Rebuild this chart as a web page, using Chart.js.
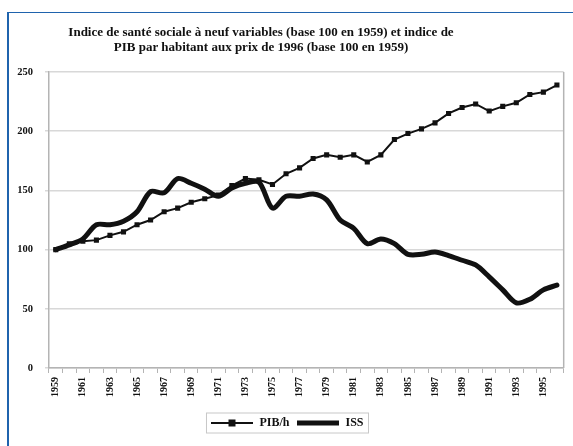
<!DOCTYPE html>
<html lang="fr">
<head>
<meta charset="utf-8">
<title>Indice de santé sociale et PIB par habitant</title>
<script src="https://cdn.jsdelivr.net/npm/chart.js@4.4.1/dist/chart.umd.min.js"></script>
<style>
    html, body { margin: 0; padding: 0; background: #fff; }
    #wrap { position: relative; width: 573px; height: 446px; overflow: hidden; background: #fff; }
    #frame { position: absolute; left: 7px; top: 12px; width: 620px; height: 500px;
             border-top: 1px solid #1f63ad; border-left: 2px solid #1f63ad; }
    #title { position: absolute; left: 0; top: 24px; width: 522px; text-align: center;
             font: bold 13px 'Liberation Serif', 'Times New Roman', serif; line-height: 15px; color: #111; }
    #issChart { position: absolute; left: 0; top: 0; }
</style>
</head>
<body>
<div id="wrap">
    <div id="frame"></div>
    <canvas id="issChart" width="573" height="446"></canvas>
    <div id="title">Indice de santé sociale à neuf variables (base 100 en 1959) et indice de<br>PIB par habitant aux prix de 1996 (base 100 en 1959)</div>
</div>
<script>
// Data
const years = ['1959', '1960', '1961', '1962', '1963', '1964', '1965', '1966', '1967', '1968',
               '1969', '1970', '1971', '1972', '1973', '1974', '1975', '1976', '1977', '1978',
               '1979', '1980', '1981', '1982', '1983', '1984', '1985', '1986', '1987', '1988',
               '1989', '1990', '1991', '1992', '1993', '1994', '1995', '1996'];
const pibValues = [100, 105, 107, 108, 112, 115, 121, 125, 132, 135,
                   140, 143, 146, 154, 160, 159, 155, 164, 169, 177,
                   180, 178, 180, 174, 180, 193, 198, 202, 207, 215,
                   220, 223, 217, 221, 224, 231, 233, 239];
const issValues = [100, 104, 109, 121, 121, 124, 132, 149, 148, 160,
                   156, 151, 145, 152, 156, 157, 135, 145, 145, 147,
                   142, 125, 118, 105, 109, 105, 96, 96, 98, 95,
                   91, 87, 77, 66, 55, 58, 66, 70];
const yTicks = [0, 50, 100, 150, 200, 250];

const FONT = "'Liberation Serif', 'Times New Roman', serif";
const AXIS_COLOR = '#b4b4b4';
const GRID_COLOR = '#d8d8d8';

document.addEventListener('DOMContentLoaded', function() {
    initIssChart();
});

/**
 * Small canvas used as legend symbol (line, optional square marker)
 */
function makeLegendIcon(lineWidth, withMarker) {
    const c = document.createElement('canvas');
    c.width = 42;
    c.height = 10;
    const ctx = c.getContext('2d');
    ctx.strokeStyle = '#111';
    ctx.lineWidth = lineWidth;
    ctx.beginPath();
    ctx.moveTo(0, 5);
    ctx.lineTo(42, 5);
    ctx.stroke();
    if (withMarker) {
        ctx.fillStyle = '#111';
        ctx.fillRect(17, 1.5, 7, 7);
    }
    return c;
}

/**
 * Draws the right frame line and a box around the legend
 */
const framePlugin = {
    id: 'framePlugin',
    afterDraw(chart) {
        const ctx = chart.ctx;
        const area = chart.chartArea;
        ctx.save();
        ctx.strokeStyle = AXIS_COLOR;
        ctx.lineWidth = 1.5;
        ctx.beginPath();
        ctx.moveTo(area.right, area.top);
        ctx.lineTo(area.right, area.bottom);
        ctx.stroke();

        const boxes = chart.legend.legendHitBoxes;
        if (boxes && boxes.length) {
            const left = Math.min(...boxes.map(b => b.left)) - 5;
            const right = Math.max(...boxes.map(b => b.left + b.width)) + 5;
            const top = boxes[0].top - 4;
            const bottom = boxes[0].top + boxes[0].height + 4;
            ctx.strokeStyle = '#c8c8c8';
            ctx.lineWidth = 1;
            ctx.strokeRect(left, top, right - left, bottom - top);
        }
        ctx.restore();
    }
};

/**
 * Initialize the ISS / PIB line chart
 */
function initIssChart() {
    const ctx = document.getElementById('issChart').getContext('2d');
    const icons = [makeLegendIcon(2, true), makeLegendIcon(5, false)];

    new Chart(ctx, {
        type: 'line',
        data: {
            labels: years,
            datasets: [{
                label: 'PIB/h',
                data: pibValues,
                borderColor: '#111',
                backgroundColor: '#111',
                borderWidth: 2,
                pointStyle: 'rect',
                pointRadius: 3.6,
                pointBackgroundColor: '#111',
                pointBorderWidth: 0,
                tension: 0
            }, {
                label: 'ISS',
                data: issValues,
                borderColor: '#111',
                backgroundColor: '#111',
                borderWidth: 5,
                pointRadius: 0,
                tension: 0.3,
                borderCapStyle: 'round',
                borderJoinStyle: 'round'
            }]
        },
        options: {
            responsive: false,
            animation: false,
            layout: {
                padding: { left: 8, right: 6, top: 72, bottom: 7 }
            },
            plugins: {
                title: { display: false },
                tooltip: { enabled: false },
                legend: {
                    position: 'bottom',
                    labels: {
                        usePointStyle: true,
                        pointStyleWidth: 42,
                        padding: 8,
                        color: '#111',
                        font: { family: FONT, size: 12, weight: 'bold' },
                        generateLabels: function(chart) {
                            const items = Chart.defaults.plugins.legend.labels.generateLabels(chart);
                            items.forEach((item, i) => { item.pointStyle = icons[i]; });
                            return items;
                        }
                    }
                }
            },
            scales: {
                x: {
                    type: 'category',
                    offset: true,
                    grid: {
                        offset: true,
                        drawOnChartArea: false,
                        drawTicks: true,
                        tickLength: 5,
                        color: AXIS_COLOR,
                        lineWidth: 1
                    },
                    border: { color: AXIS_COLOR, width: 1.5 },
                    ticks: {
                        autoSkip: false,
                        minRotation: 90,
                        maxRotation: 90,
                        padding: 4,
                        color: '#111',
                        font: { family: FONT, size: 10, weight: 'bold' },
                        callback: function(value, index) {
                            return index % 2 === 0 ? years[index] : '';
                        }
                    },
                    afterFit: function(scale) { scale.height = 41; }
                },
                y: {
                    min: 0,
                    max: 250,
                    afterBuildTicks: function(scale) {
                        scale.ticks = yTicks.map(v => ({ value: v }));
                    },
                    grid: {
                        color: GRID_COLOR,
                        lineWidth: 1.5,
                        tickLength: 4
                    },
                    border: { color: AXIS_COLOR, width: 1.5 },
                    ticks: {
                        padding: 12,
                        color: '#111',
                        font: { family: FONT, size: 10.5, weight: 'bold' }
                    },
                    afterFit: function(scale) { scale.width = 41; }
                }
            }
        },
        plugins: [framePlugin]
    });
}
</script>
</body>
</html>
